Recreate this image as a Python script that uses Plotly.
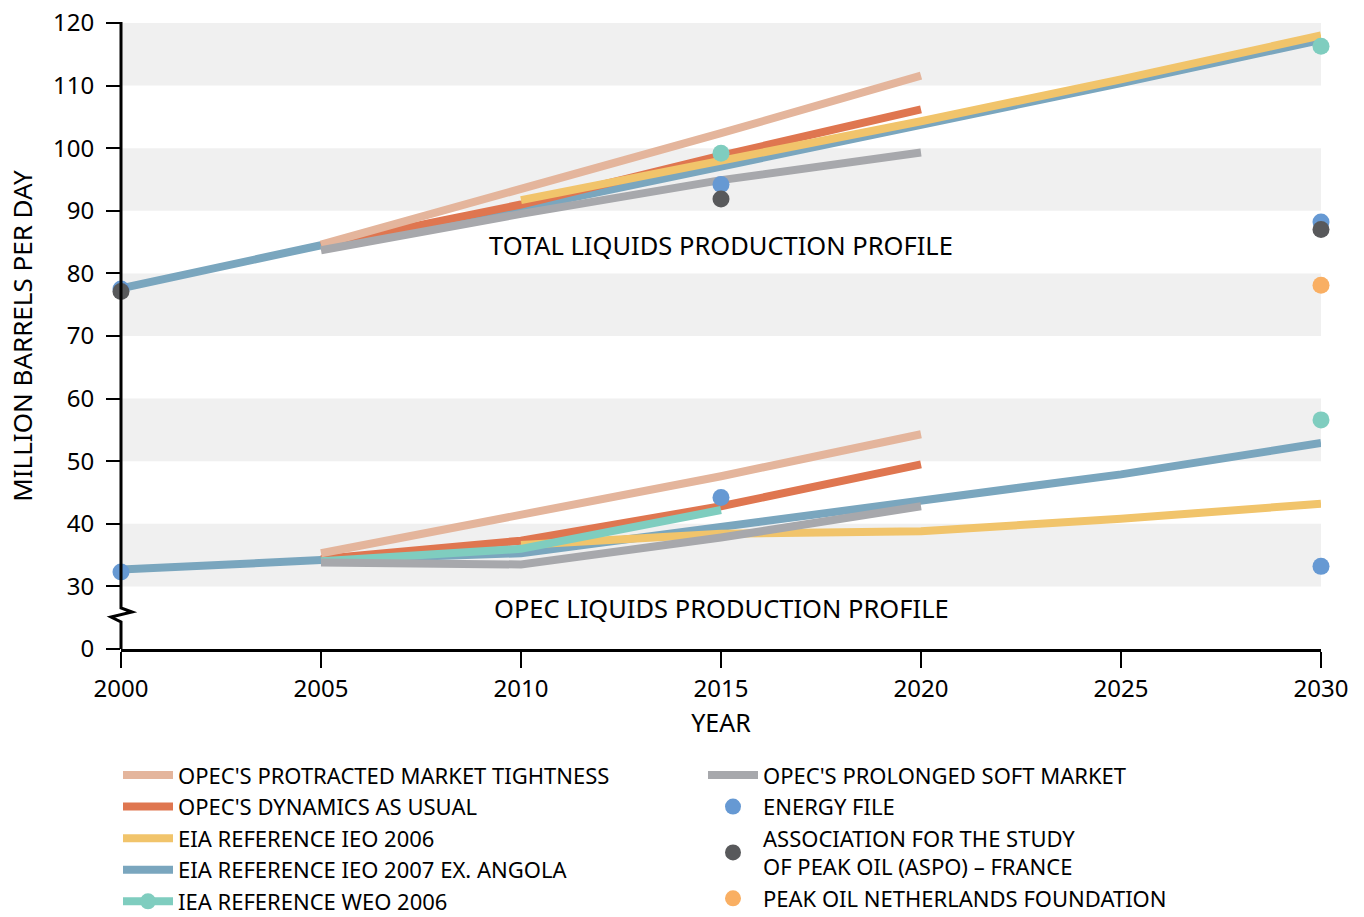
import plotly.graph_objects as go

FONT = "Noto Sans"

# ---- data (million barrels per day) ----
line_years_full = [2000, 2005, 2010, 2015, 2020, 2025, 2030]
line_years_2010 = [2010, 2015, 2020, 2025, 2030]
line_years_2005 = [2005, 2010, 2015, 2020]
iea_line_years = [2005, 2010, 2015]

# total liquids
prot_total = [84.6, 93.4, 102.4, 111.6]
dyn_total = [84.5, 91.0, 98.8, 106.2]
eia06_total = [91.7, 98.0, 104.3, 111.0, 118.0]
eia07_total = [77.6, 84.5, 90.4, 97.0, 103.7, 110.4, 117.3]
soft_total = [83.7, 89.5, 94.9, 99.3]

# OPEC liquids
prot_opec = [35.3, 41.4, 47.6, 54.3]
dyn_opec = [34.4, 37.3, 42.8, 49.5]
eia06_opec = [36.6, 38.4, 38.8, 40.8, 43.2]
eia07_opec = [32.7, 34.2, 35.3, 39.4, 43.5, 47.9, 52.9]
soft_opec = [33.8, 33.5, 37.8, 42.8]
iea_opec = [34.0, 36.0, 42.2]

# point forecasts
iea_pt_years = [2015, 2030, 2030]
iea_pt_vals = [99.2, 116.3, 56.6]
energy_years = [2000, 2015, 2030, 2000, 2015, 2030]
energy_vals = [77.5, 94.2, 88.2, 32.3, 44.2, 33.2]
aspo_years = [2000, 2015, 2030]
aspo_vals = [77.1, 91.9, 87.0]
nl_years = [2030]
nl_vals = [78.1]

y_tick_vals = [20, 30, 40, 50, 60, 70, 80, 90, 100, 110, 120]
y_tick_text = ["0", "30", "40", "50", "60", "70", "80", "90", "100", "110", "120"]
x_tick_vals = [2000, 2005, 2010, 2015, 2020, 2025, 2030]

C_PROT = "#E4B59C"
C_DYN = "#DF7650"
C_EIA06 = "#F1C46B"
C_EIA07 = "#7AA6BE"
C_IEA = "#7FCDBF"
C_SOFT = "#A7A8AC"
C_ENERGY = "#6699D3"
C_ASPO = "#58595B"
C_NL = "#F9AF63"

LW = 8
MS = 17


def joined(x1, y1, x2, y2):
    """Two segments in one trace, separated by a gap."""
    return list(x1) + [None] + list(x2), list(y1) + [None] + list(y2)


fig = go.Figure()


def add_line(name, xs, ys, color, rank, legend="legend"):
    fig.add_trace(go.Scatter(
        x=xs, y=ys, mode="lines", name=name,
        line=dict(color=color, width=LW),
        cliponaxis=False, connectgaps=False,
        legend=legend, legendrank=rank, legendgroup=name,
        hoverinfo="skip",
    ))


# drawing order (bottom to top)
x, y = joined(line_years_full, eia07_total, line_years_full, eia07_opec)
add_line("EIA REFERENCE IEO 2007 EX. ANGOLA", x, y, C_EIA07, 4)
x, y = joined(line_years_2005, dyn_total, line_years_2005, dyn_opec)
add_line("OPEC'S DYNAMICS AS USUAL", x, y, C_DYN, 2)
x, y = joined(line_years_2010, eia06_total, line_years_2010, eia06_opec)
add_line("EIA REFERENCE IEO 2006", x, y, C_EIA06, 3)

fig.add_trace(go.Scatter(
    x=iea_line_years, y=iea_opec, mode="lines",
    line=dict(color=C_IEA, width=LW), cliponaxis=False,
    showlegend=False, hoverinfo="skip",
))

x, y = joined(line_years_2005, prot_total, line_years_2005, prot_opec)
add_line("OPEC'S PROTRACTED MARKET TIGHTNESS", x, y, C_PROT, 1)
x, y = joined(line_years_2005, soft_total, line_years_2005, soft_opec)
add_line("OPEC'S PROLONGED SOFT MARKET", x, y, C_SOFT, 6, legend="legend2")


def add_points(name, xs, ys, color, rank, legend="legend2", show=True):
    fig.add_trace(go.Scatter(
        x=xs, y=ys, mode="markers", name=name,
        marker=dict(color=color, size=MS, line=dict(width=0)),
        cliponaxis=False, showlegend=show,
        legend=legend, legendrank=rank, legendgroup=name, hoverinfo="skip",
    ))


add_points("IEA REFERENCE WEO 2006", iea_pt_years, iea_pt_vals, C_IEA, 5, legend="legend", show=False)
add_points("ENERGY FILE", energy_years, energy_vals, C_ENERGY, 7)
add_points("ASSOCIATION FOR THE STUDY<br>OF PEAK OIL (ASPO) – FRANCE", aspo_years, aspo_vals, C_ASPO, 8)
add_points("PEAK OIL NETHERLANDS FOUNDATION", nl_years, nl_vals, C_NL, 9)

# legend key for the IEA line + point series
fig.add_trace(go.Scatter(
    x=[None], y=[None], mode="lines+markers", name="IEA REFERENCE WEO 2006",
    line=dict(color=C_IEA, width=LW), marker=dict(color=C_IEA, size=MS),
    legend="legend", legendrank=5, legendgroup="iea-key",
))

# alternating background bands
shapes = []
for lo in [30, 50, 70, 90, 110]:
    shapes.append(dict(type="rect", xref="x", yref="y", x0=2000, x1=2030,
                       y0=lo, y1=lo + 10, fillcolor="#F0F0F0",
                       line=dict(width=0), layer="below"))


# y-axis line with a break between 0 and 30
def px_to_paper(px, py):
    return (px - 121) / 1200, (649 - py) / 626


pts = [(121, 22), (121, 608), (132, 612), (111, 617), (121, 622), (121, 649)]
path = ""
for i, (px, py) in enumerate(pts):
    xp, yp = px_to_paper(px, py)
    path += ("M" if i == 0 else "L") + f"{xp:.5f},{yp:.5f} "
shapes.append(dict(type="path", xref="paper", yref="paper", path=path,
                   line=dict(color="black", width=3), layer="above"))

annotations = [
    dict(x=2015, y=84.6, xref="x", yref="y", text="TOTAL LIQUIDS PRODUCTION PROFILE",
         showarrow=False, font=dict(family=FONT, size=25.5, color="black")),
    dict(x=2015, y=26.6, xref="x", yref="y", text="OPEC LIQUIDS PRODUCTION PROFILE",
         showarrow=False, font=dict(family=FONT, size=25.5, color="black")),
]

legend_common = dict(
    font=dict(family=FONT, size=22, color="black"),
    bgcolor="rgba(0,0,0,0)", borderwidth=0,
    traceorder="grouped", tracegroupgap=0,
    xanchor="left", yanchor="top", itemwidth=50,
)

fig.update_layout(
    width=1364, height=917, autosize=False,
    margin=dict(l=121, r=43, t=23, b=268, autoexpand=False),
    paper_bgcolor="white", plot_bgcolor="white",
    font=dict(family=FONT, size=23, color="black"),
    shapes=shapes, annotations=annotations,
    legend=dict(x=-0.0025, y=-0.168, **legend_common),
    legend2=dict(x=0.485, y=-0.168, **legend_common),
    xaxis=dict(
        range=[2000, 2030], tickvals=x_tick_vals, automargin=False,
        showgrid=False, zeroline=False,
        showline=True, linecolor="black", linewidth=3,
        ticks="outside", ticklen=16, tickwidth=2, tickcolor="black",
        tickfont=dict(family=FONT, size=24),
        title=dict(text="YEAR", font=dict(family=FONT, size=25), standoff=12),
    ),
    yaxis=dict(
        range=[20, 120], tickvals=y_tick_vals, ticktext=y_tick_text, automargin=False,
        showgrid=False, zeroline=False, showline=False,
        ticks="outside", ticklen=14, tickwidth=2, tickcolor="black",
        ticklabelstandoff=7,
        tickfont=dict(family=FONT, size=24),
        title=dict(text="MILLION BARRELS PER DAY", font=dict(family=FONT, size=26), standoff=12),
    ),
)

fig.write_html("out.html")
